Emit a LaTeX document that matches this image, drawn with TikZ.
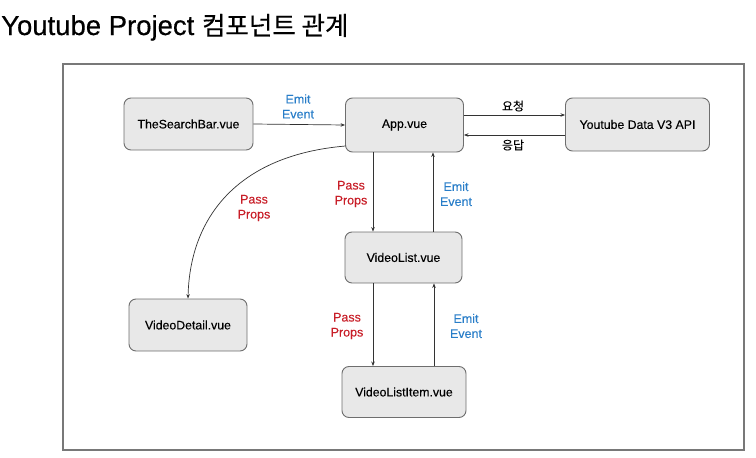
\documentclass[tikz,border=0pt]{standalone}
\usepackage{fontspec}
\setmainfont{Liberation Sans}[FakeBold=0.25]
\newfontfamily\ttl{Liberation Sans}[FakeBold=0.4]
\newfontfamily\kr{Noto Sans CJK KR}[FakeBold=0.3]
\usetikzlibrary{arrows.meta}
\definecolor{boxfill}{RGB}{232,232,232}
\definecolor{boxline}{RGB}{110,110,110}
\definecolor{emitblue}{RGB}{40,125,200}
\definecolor{passred}{RGB}{200,30,40}
\definecolor{framegray}{RGB}{120,120,120}
\tikzset{
  comp/.style={draw=boxline, fill=boxfill, line width=0.9pt, rounded corners=7pt, inner sep=0pt, font=\fontsize{12.3}{14}\selectfont},
  conn/.style={draw=black!80, line width=0.7pt, -{Stealth[length=4.5pt,width=3.5pt]}},
  emitlbl/.style={text=emitblue, align=center, font=\fontsize{12.5}{15}\selectfont, inner sep=0pt},
  passlbl/.style={text=passred, align=center, font=\fontsize{12.5}{15}\selectfont, inner sep=0pt},
  krlbl/.style={font=\kr\fontsize{12}{13}\selectfont, inner sep=0pt}
}
\begin{document}
\begin{tikzpicture}[x=1pt,y=-1pt]
\useasboundingbox (0,0) rectangle (756,458);
% title
\node[anchor=base west, inner sep=0pt, font=\ttl\fontsize{27.5}{30}\selectfont] (title) at (1,35) {Youtube Project {\kr\fontsize{25.5}{28}\selectfont 컴포넌트 관계}};
% frame
\draw[framegray, line width=1.3pt] (63,64) rectangle (744,450);
% nodes
\node[comp, minimum width=129pt, minimum height=52pt] (search) at (188.5,124) {TheSearchBar.vue};
\node[comp, minimum width=118pt, minimum height=54pt] (app) at (404.5,125) {App.vue};
\node[comp, minimum width=144pt, minimum height=53pt] (api) at (637.5,124.5) {Youtube Data V3 API};
\node[comp, minimum width=117pt, minimum height=51pt] (list) at (403.5,257.5) {VideoList.vue};
\node[comp, minimum width=118pt, minimum height=52pt] (detail) at (188,325) {VideoDetail.vue};
\node[comp, minimum width=124pt, minimum height=51pt] (item) at (404,392) {VideoListItem.vue};
% connectors
\draw[conn] (search.east) -- (app.west);
\node[emitlbl] (l1) at (298,106.5) {Emit\\Event};
\draw[conn] (app.east |- 0,115) -- (api.west |- 0,115);
\node[krlbl] (req) at (513,106) {요청};
\draw[conn] (api.west |- 0,135) -- (app.east |- 0,135);
\node[krlbl] (res) at (513,145) {응답};
\draw[conn] (app.south -| 373,0) -- (list.north -| 373,0);
\node[passlbl] (l2) at (351,194) {Pass\\Props};
\draw[conn] (list.north -| 433,0) -- (app.south -| 433,0);
\node[emitlbl] (l3) at (456,194) {Emit\\Event};
\draw[conn] (list.south -| 373,0) -- (item.north -| 373,0);
\node[passlbl] (l4) at (347,326) {Pass\\Props};
\draw[conn] (item.north -| 434,0) -- (list.south -| 434,0);
\node[emitlbl] (l5) at (466,326) {Emit\\Event};
\coordinate (cs) at (345.5,146);
\draw[conn] (cs) .. controls (240,155) and (190,215) .. (detail.north);
\node[passlbl] (l6) at (254,208) {Pass\\Props};
\end{tikzpicture}
\end{document}
